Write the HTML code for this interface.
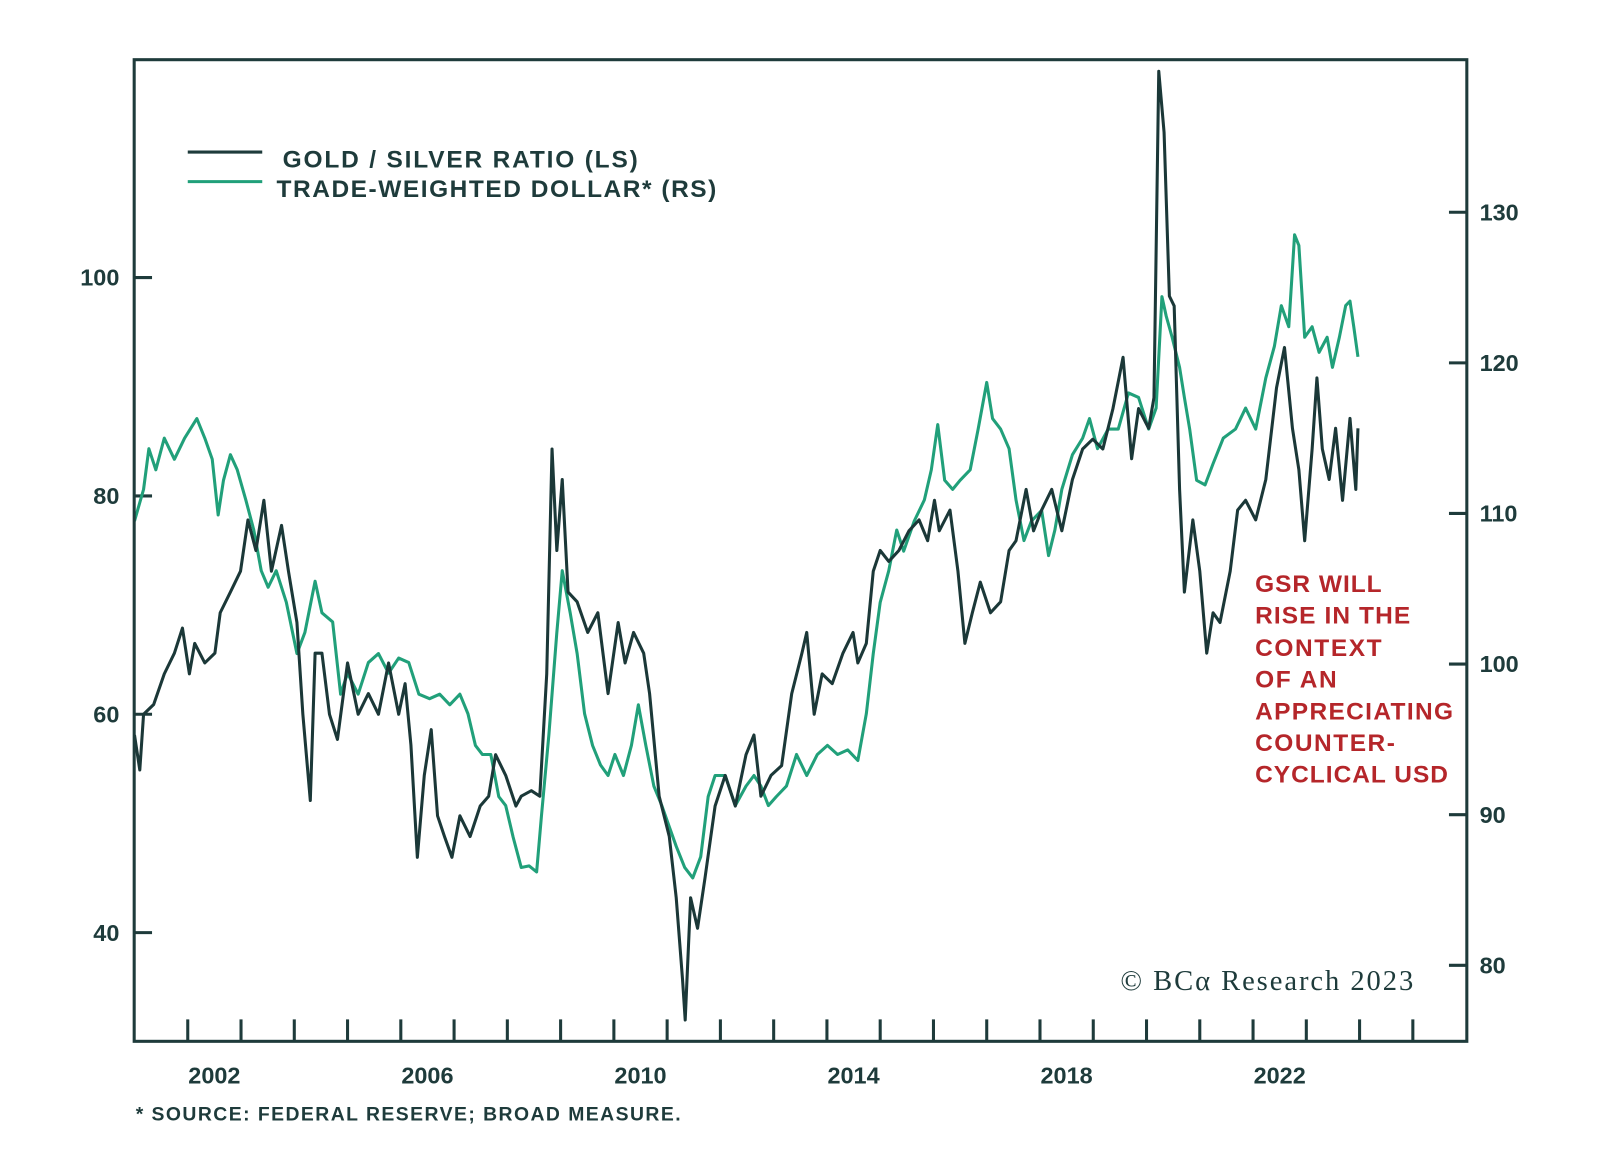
<!DOCTYPE html>
<html><head><meta charset="utf-8"><style>
html,body{margin:0;padding:0;background:#fff;}
svg{display:block;font-family:"Liberation Sans",sans-serif;}
</style></head><body>
<svg id="chart" width="1600" height="1151" viewBox="0 0 1600 1151" xmlns="http://www.w3.org/2000/svg">
<rect x="0" y="0" width="1600" height="1151" fill="#fff"/>
<g transform="scale(1.0204)">
<g id="gridg"></g>
<g id="series"></g>
<rect x="131.5" y="58.5" width="1306" height="962" fill="none" stroke="#1e3b3b" stroke-width="3"/>
<g>
<line x1="184" y1="149" x2="257" y2="149" stroke="#1e3b3b" stroke-width="3"/>
<text x="277" y="164" font-size="24" font-weight="bold" fill="#1e3b3b" textLength="348">GOLD / SILVER RATIO (LS)</text>
<line x1="184" y1="178" x2="257" y2="178" stroke="#21a07a" stroke-width="3"/>
<text x="271" y="193" font-size="24" font-weight="bold" fill="#1e3b3b" textLength="431">TRADE-WEIGHTED DOLLAR* (RS)</text>
</g>
<g font-size="24" font-weight="bold" fill="#b5262a">
<text x="1230" y="580" textLength="124">GSR WILL</text>
<text x="1230" y="611" textLength="152">RISE IN THE</text>
<text x="1230" y="643" textLength="124">CONTEXT</text>
<text x="1230" y="674" textLength="80">OF AN</text>
<text x="1230" y="705" textLength="194">APPRECIATING</text>
<text x="1230" y="736" textLength="137">COUNTER-</text>
<text x="1230" y="767" textLength="189">CYCLICAL USD</text>
</g>
<text x="1098" y="970" font-family="Liberation Serif,serif" font-size="28" fill="#1e3b3b" textLength="287">© BCα Research 2023</text>
<text x="133" y="1098" font-size="19" font-weight="bold" fill="#1e3b3b" textLength="534">* SOURCE: FEDERAL RESERVE; BROAD MEASURE.</text>
</g>
</svg>
<script>
const gsrYears=[2001.00,2001.10,2001.17,2001.36,2001.56,2001.75,2001.90,2002.03,2002.13,2002.32,2002.51,2002.61,2002.80,2002.99,2003.13,2003.28,2003.43,2003.57,2003.76,2003.89,2004.05,2004.16,2004.30,2004.39,2004.52,2004.66,2004.81,2005.00,2005.20,2005.39,2005.58,2005.77,2005.96,2006.08,2006.19,2006.31,2006.44,2006.57,2006.69,2006.82,2006.96,2007.11,2007.30,2007.49,2007.65,2007.78,2007.97,2008.16,2008.26,2008.45,2008.61,2008.74,2008.84,2008.93,2009.03,2009.14,2009.31,2009.51,2009.70,2009.89,2010.08,2010.21,2010.37,2010.56,2010.67,2010.85,2011.04,2011.17,2011.29,2011.34,2011.44,2011.57,2011.71,2011.90,2012.09,2012.28,2012.48,2012.63,2012.76,2012.95,2013.15,2013.34,2013.53,2013.62,2013.76,2013.91,2014.10,2014.30,2014.49,2014.58,2014.74,2014.87,2015.00,2015.16,2015.35,2015.54,2015.73,2015.89,2016.02,2016.11,2016.31,2016.46,2016.59,2016.73,2016.88,2017.07,2017.26,2017.42,2017.55,2017.74,2017.88,2018.03,2018.22,2018.41,2018.61,2018.80,2018.99,2019.18,2019.37,2019.56,2019.72,2019.85,2020.04,2020.14,2020.23,2020.33,2020.43,2020.52,2020.62,2020.71,2020.87,2021.00,2021.13,2021.25,2021.38,2021.57,2021.71,2021.86,2022.05,2022.24,2022.44,2022.59,2022.74,2022.86,2022.97,2023.11,2023.20,2023.30,2023.43,2023.55,2023.68,2023.82,2023.93,2023.97];
const gsrValues=[58.1,54.9,60.0,60.9,63.7,65.6,67.9,63.7,66.5,64.7,65.6,69.3,71.2,73.1,77.8,75.0,79.6,73.1,77.3,73.1,68.4,60.0,52.1,65.6,65.6,60.0,57.7,64.7,60.0,61.9,60.0,64.7,60.0,62.8,57.2,46.9,54.4,58.6,50.7,48.8,46.9,50.7,48.8,51.6,52.5,56.3,54.4,51.6,52.5,53.0,52.5,63.7,84.3,75.0,81.5,71.2,70.3,67.5,69.3,61.9,68.4,64.7,67.5,65.6,61.9,52.5,48.8,43.2,35.7,32.0,43.2,40.4,45.0,51.6,54.4,51.6,56.3,58.1,52.5,54.4,55.3,61.9,65.6,67.5,60.0,63.7,62.8,65.6,67.5,64.7,66.5,73.1,75.0,74.0,75.0,76.8,77.8,75.9,79.6,76.8,78.7,73.1,66.5,69.3,72.1,69.3,70.3,75.0,75.9,80.6,76.8,78.7,80.6,76.8,81.5,84.3,85.2,84.3,88.0,92.7,83.4,88.0,86.2,89.0,118.9,113.3,98.3,97.4,80.6,71.2,77.8,73.1,65.6,69.3,68.4,73.1,78.7,79.6,77.8,81.5,89.9,93.6,86.2,82.4,75.9,84.3,90.8,84.3,81.5,86.2,79.6,87.1,80.6,86.2];
const usdYears=[2001.00,2001.17,2001.27,2001.40,2001.56,2001.75,2001.94,2002.17,2002.32,2002.46,2002.57,2002.67,2002.80,2002.93,2003.09,2003.24,2003.38,2003.51,2003.66,2003.85,2004.05,2004.20,2004.39,2004.52,2004.72,2004.87,2005.00,2005.20,2005.39,2005.58,2005.77,2005.96,2006.15,2006.34,2006.54,2006.73,2006.92,2007.11,2007.26,2007.40,2007.53,2007.69,2007.84,2007.97,2008.11,2008.26,2008.41,2008.55,2008.64,2008.78,2008.93,2009.03,2009.18,2009.31,2009.45,2009.60,2009.75,2009.89,2010.02,2010.18,2010.33,2010.46,2010.60,2010.75,2010.90,2011.04,2011.17,2011.33,2011.48,2011.63,2011.77,2011.90,2012.09,2012.28,2012.48,2012.63,2012.76,2012.90,2013.05,2013.24,2013.43,2013.62,2013.82,2014.01,2014.20,2014.39,2014.58,2014.74,2014.87,2015.00,2015.16,2015.31,2015.44,2015.64,2015.83,2015.96,2016.08,2016.21,2016.36,2016.50,2016.69,2016.84,2017.00,2017.11,2017.26,2017.42,2017.55,2017.70,2017.84,2018.03,2018.16,2018.28,2018.41,2018.61,2018.80,2018.93,2019.08,2019.28,2019.47,2019.66,2019.85,2020.04,2020.18,2020.29,2020.37,2020.48,2020.62,2020.71,2020.81,2020.94,2021.10,2021.25,2021.44,2021.67,2021.86,2022.05,2022.24,2022.40,2022.53,2022.67,2022.78,2022.86,2022.97,2023.11,2023.24,2023.39,2023.49,2023.62,2023.74,2023.82,2023.89,2023.97];
const usdValues=[109.5,111.6,114.3,112.9,115.0,113.6,115.0,116.3,115.0,113.6,109.9,112.2,113.9,112.9,110.9,108.9,106.2,105.1,106.2,104.1,100.7,102.1,105.5,103.4,102.8,98.0,99.4,98.0,100.1,100.7,99.4,100.4,100.1,98.0,97.7,98.0,97.3,98.0,96.7,94.6,94.0,94.0,91.2,90.6,88.5,86.5,86.6,86.2,89.9,95.3,102.1,106.2,103.4,100.7,96.7,94.6,93.3,92.6,94.0,92.6,94.6,97.3,94.6,91.9,90.6,89.2,87.9,86.5,85.8,87.2,91.2,92.6,92.6,90.6,91.9,92.6,91.9,90.6,91.2,91.9,94.0,92.6,94.0,94.6,94.0,94.3,93.6,96.7,100.7,104.1,106.2,108.9,107.5,109.5,110.9,112.9,115.9,112.2,111.6,112.2,112.9,115.6,118.7,116.3,115.6,114.3,110.9,108.2,109.5,110.2,107.2,108.9,111.6,113.9,115.0,116.3,114.3,115.6,115.6,118.0,117.7,115.6,117.0,124.4,123.1,121.7,119.7,117.7,115.6,112.2,111.9,113.3,115.0,115.6,117.0,115.6,119.0,121.1,123.8,122.4,128.5,127.8,121.7,122.4,120.7,121.7,119.7,121.7,123.8,124.1,122.4,120.4];
const leftTicks=[40,60,80,100];
const rightTicks=[80,90,100,110,120,130];
const xLabels=[2002,2006,2010,2014,2018,2022];
const xTickYears=[2002,2003,2004,2005,2006,2007,2008,2009,2010,2011,2012,2013,2014,2015,2016,2017,2018,2019,2020,2021,2022,2023,2024,2025];

const X=t=>184+(t-2002)*52.2;
const YL=v=>272+(100-v)*10.7;
const YR=v=>208+(130-v)*14.76;
const NS="http://www.w3.org/2000/svg";
const ax=document.getElementById('gridg');
const sg=document.getElementById('series');
const C="#1e3b3b";
function mk(tag,attrs,parent){const e=document.createElementNS(NS,tag);for(const k in attrs)e.setAttribute(k,attrs[k]);parent.appendChild(e);return e;}

leftTicks.forEach(v=>{
 const l=mk('line',{x1:131,x2:149,y1:YL(v),y2:YL(v),stroke:C,'stroke-width':3},ax);
 
 
 const t=mk('text',{x:117,y:YL(v)+8,'text-anchor':'end','font-size':23,'font-weight':'bold',fill:C},ax);
 t.textContent=v;
 
 
});
rightTicks.forEach(v=>{
 const l=mk('line',{x1:1420,x2:1437,y1:YR(v),y2:YR(v),stroke:C,'stroke-width':3},ax);
 
 
 const t=mk('text',{x:1450,y:YR(v)+8,'font-size':23,'font-weight':'bold',fill:C},ax);
 t.textContent=v;
 
 
});
xTickYears.forEach(y=>{
 const l=mk('line',{x1:X(y),x2:X(y),y1:999,y2:1020,stroke:C,'stroke-width':3},ax);
 
 
});
xLabels.forEach(y=>{
 const t=mk('text',{x:X(y+0.5),y:1062,'text-anchor':'middle','font-size':23,'font-weight':'bold',fill:C},ax);
 t.textContent=y;
 
 
});
function path(xs,vs,yf){return xs.map((t,i)=>(i?'L':'M')+X(t).toFixed(1)+','+yf(vs[i]).toFixed(1)).join('');}
const pu=mk('path',{d:path(usdYears,usdValues,YR),fill:'none',stroke:'#21a07a','stroke-width':3,'stroke-linejoin':'round'},sg);


const pg=mk('path',{d:path(gsrYears,gsrValues,YL),fill:'none',stroke:'#1b3838','stroke-width':3,'stroke-linejoin':'round'},sg);


</script>
</body></html>
